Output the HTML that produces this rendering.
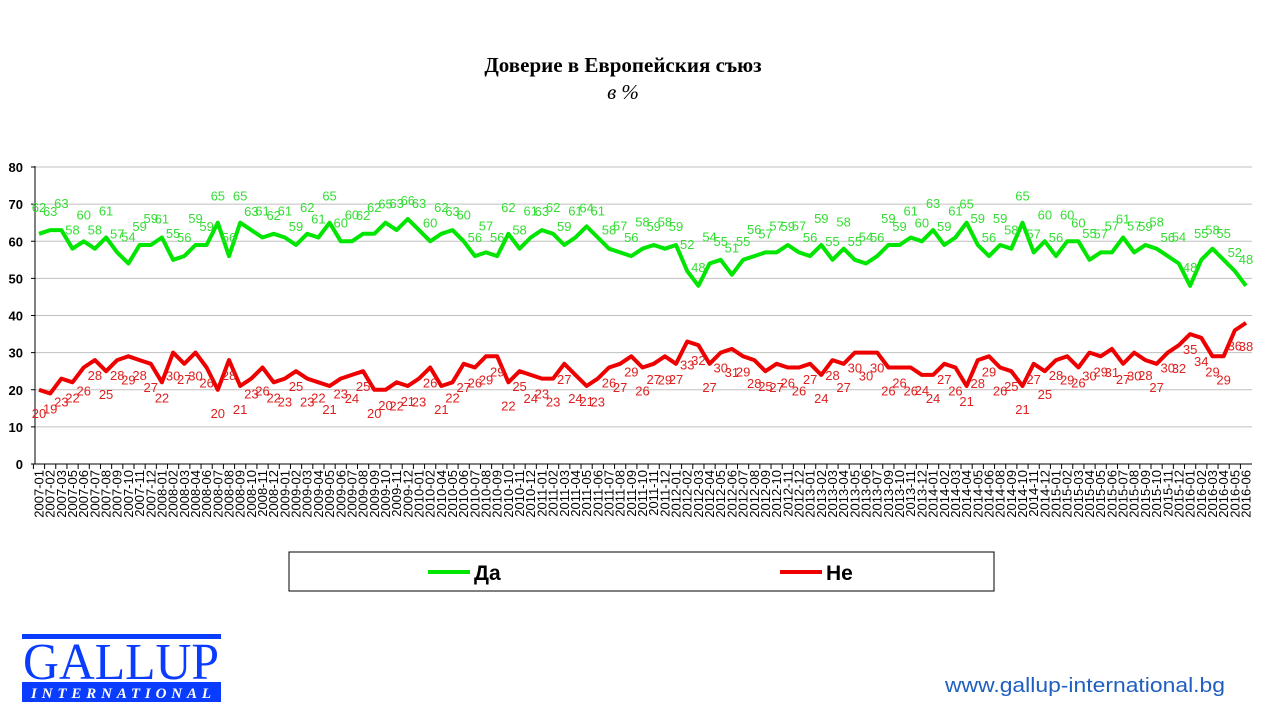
<!DOCTYPE html>
<html><head><meta charset="utf-8"><style>
body{margin:0;background:#fff;width:1280px;height:720px;overflow:hidden;position:relative;font-family:"Liberation Sans",sans-serif}
</style></head><body>
<svg id="s" width="1280" height="720" xmlns="http://www.w3.org/2000/svg" style="position:absolute;left:0;top:0">
<text x="623" y="72" text-anchor="middle" font-family="Liberation Serif" font-weight="bold" font-size="21">Доверие в Европейския съюз</text>
<text x="623" y="99" text-anchor="middle" font-family="Liberation Serif" font-style="italic" font-size="21">в %</text>
<rect x="289" y="552" width="705" height="39" fill="#fff" stroke="#000" stroke-width="1"/>
<line x1="428" y1="572" x2="470" y2="572" stroke="#00e600" stroke-width="4"/>
<text x="474" y="580" font-weight="bold" font-size="21">Да</text>
<line x1="780" y1="572" x2="822" y2="572" stroke="#ee0000" stroke-width="4"/>
<text x="826" y="580" font-weight="bold" font-size="21">Не</text>
<rect x="22" y="634" width="199" height="5" fill="#0a3cff"/>
<text x="121" y="679" text-anchor="middle" font-family="Liberation Serif" font-size="52" fill="#0a3cff" textLength="196" lengthAdjust="spacingAndGlyphs">GALLUP</text>
<rect x="22" y="682" width="199" height="20" fill="#0a3cff"/>
<text x="121" y="698" text-anchor="middle" font-family="Liberation Serif" font-weight="bold" font-style="italic" font-size="15" fill="#fff" textLength="180" lengthAdjust="spacing">INTERNATIONAL</text>
<text x="945" y="692" font-size="20" fill="#1f5fbf" textLength="280" lengthAdjust="spacingAndGlyphs">www.gallup-international.bg</text>
</svg>
<script>
var G=[62,63,63,58,60,58,61,57,54,59,59,61,55,56,59,59,65,56,65,63,61,62,61,59,62,61,65,60,60,62,62,65,63,66,63,
60,62,63,60,56,57,56,62,58,61,63,62,59,61,64,61,58,57,56,58,59,58,59,52,48,54,55,51,55,56,57,57,59,57,56,59,
55,58,55,54,56,59,59,61,60,63,59,61,65,59,56,59,58,65,57,60,56,60,60,55,57,57,61,57,59,58,56,54,48,55,58,55,52,48];
var R=[20,19,23,22,26,28,25,28,29,28,27,22,30,27,30,26,20,28,21,23,26,22,23,25,23,22,21,23,24,25,20,20,22,21,23,
26,21,22,27,26,29,29,22,25,24,23,23,27,24,21,23,26,27,29,26,27,29,27,33,32,27,30,31,29,28,25,27,26,26,27,24,
28,27,30,30,30,26,26,26,24,24,27,26,21,28,29,26,25,21,27,25,28,29,26,30,29,31,27,30,28,27,30,32,35,34,29,29,36,38];
var s=document.getElementById('s'),h='';
var n=G.length,x0=39,x1=1246,st=(x1-x0)/(n-1);
function Y(v){return 464-v*3.7125;}
function X(i){return x0+i*st;}
for(var v=10;v<=80;v+=10)h+='<line x1="35" y1="'+Y(v)+'" x2="1252" y2="'+Y(v)+'" stroke="#c0c0c0" stroke-width="1"/>';
for(var v=0;v<=80;v+=10)h+='<text x="23" y="'+(Y(v)+5)+'" text-anchor="end" font-weight="bold" font-size="13">'+v+'</text><line x1="31" y1="'+Y(v)+'" x2="35" y2="'+Y(v)+'" stroke="#000"/>';
h+='<line x1="35" y1="166" x2="35" y2="464" stroke="#000"/><line x1="35" y1="464" x2="1252" y2="464" stroke="#000"/>';
var labs=[],y=2007,m=1,skip={'2007-04':1,'2008-05':1,'2010-03':1,'2013-08':1,'2014-07':1};
while(labs.length<n){var l=y+'-'+(m<10?'0':'')+m;if(!skip[l])labs.push(l);m++;if(m>12){m=1;y++;}}
for(var i=0;i<n;i++){var x=X(i)-st/2;h+='<line x1="'+x+'" y1="464" x2="'+x+'" y2="469" stroke="#000"/>';
h+='<text transform="translate('+(X(i)+4.5)+',470) rotate(-90)" text-anchor="end" font-size="13">'+labs[i]+'</text>';}
function line(a,c){var p='';for(var i=0;i<n;i++)p+=(i?'L':'M')+X(i).toFixed(1)+' '+Y(a[i]).toFixed(1);return '<path d="'+p+'" fill="none" stroke="'+c+'" stroke-width="4" stroke-linejoin="round"/>';}
h+=line(G,'#00e600')+line(R,'#ee0000');
for(var i=0;i<n;i++){
 var gy=Y(G[i])-(i%2?14:22);
 h+='<text x="'+X(i)+'" y="'+gy+'" text-anchor="middle" font-size="13" fill="#33dd33">'+G[i]+'</text>';
 var ry=Y(R[i])+(i%2?20:28);
 h+='<text x="'+X(i)+'" y="'+ry+'" text-anchor="middle" font-size="13" fill="#e02020">'+R[i]+'</text>';}
s.insertAdjacentHTML('beforeend',h);
</script>
</body></html>
